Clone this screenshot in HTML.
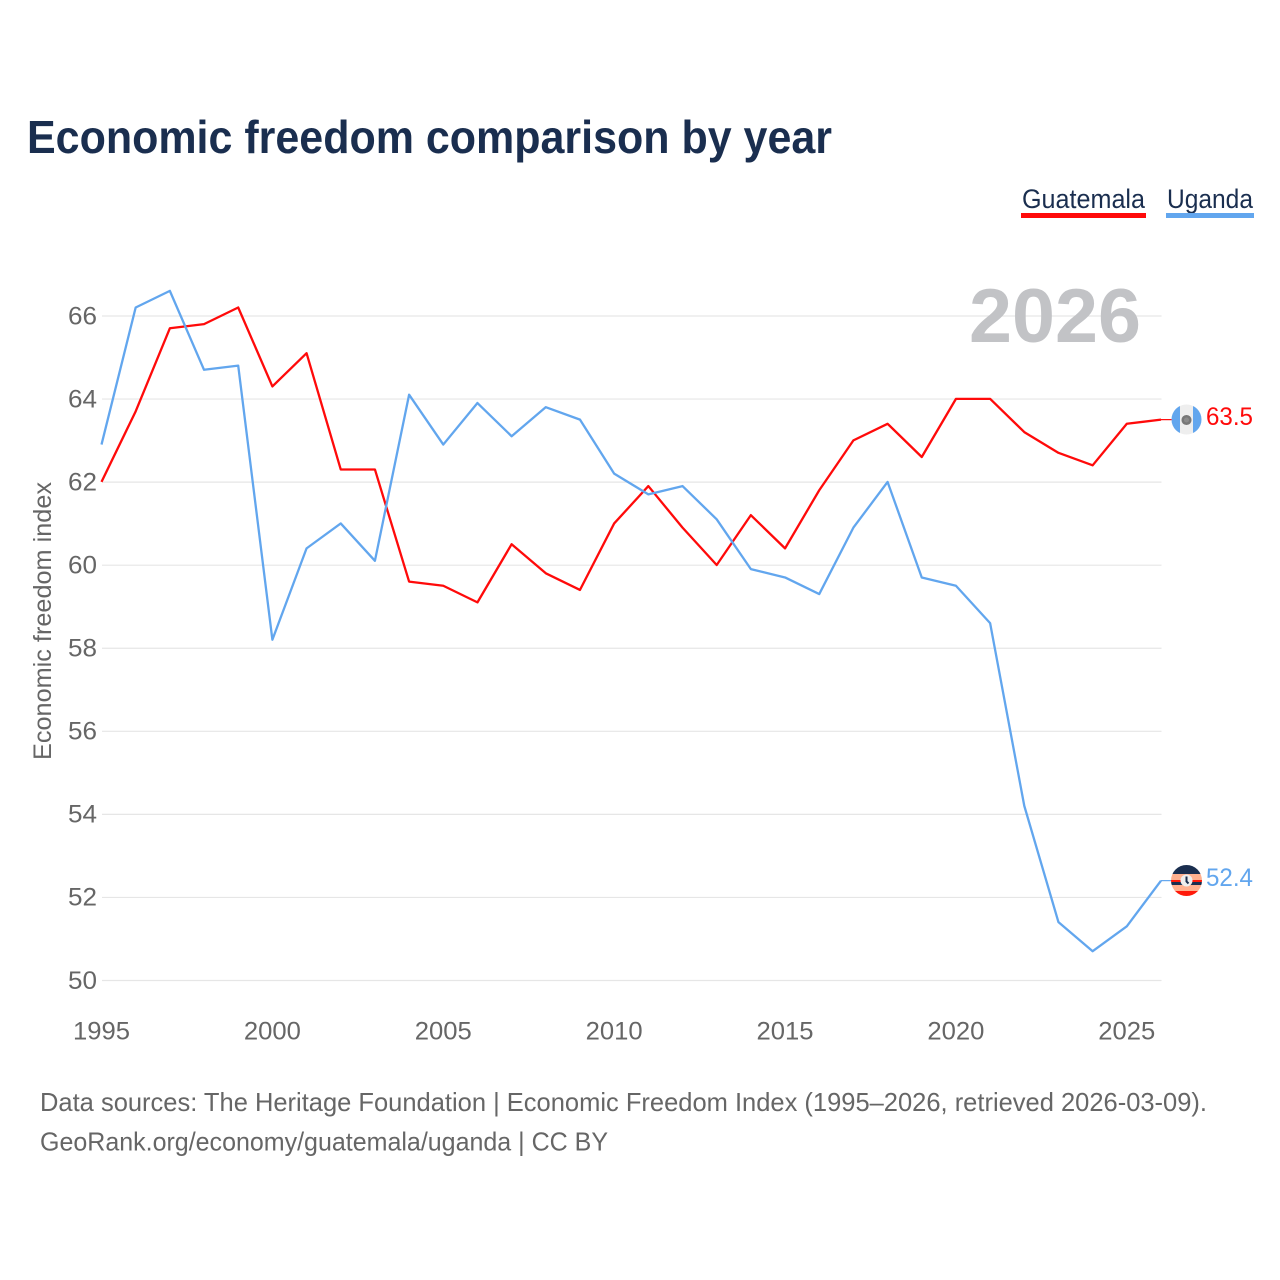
<!DOCTYPE html>
<html lang="en">
<head>
<meta charset="utf-8">
<title>Economic freedom comparison by year</title>
<style>
html,body{margin:0;padding:0;background:#fff}
svg{display:block}
text{font-family:"Liberation Sans",sans-serif}
</style>
</head>
<body>
<svg id="chart" xmlns="http://www.w3.org/2000/svg" width="1280" height="1280" viewBox="0 0 1280 1280">
  <rect width="1280" height="1280" fill="#fff"/>
  <defs>
    <clipPath id="flag-clip-gt"><circle cx="1186.5" cy="419.5" r="15"/></clipPath>
    <clipPath id="flag-clip-ug"><circle cx="1186.5" cy="880.5" r="15.5"/></clipPath>
  </defs>
  <text x="27" y="153" font-size="46" font-weight="700" fill="#1a2e4f" textLength="805" lengthAdjust="spacingAndGlyphs">Economic freedom comparison by year</text>

  <g>
    <g>
      <text x="1022" y="208" font-size="27" fill="#1a2e4f" textLength="123" lengthAdjust="spacingAndGlyphs">Guatemala</text>
      <rect x="1021" y="213" width="125" height="5" fill="#ff0a0a"/>
    </g>
    <g>
      <text x="1167" y="208" font-size="27" fill="#1a2e4f" textLength="86" lengthAdjust="spacingAndGlyphs">Uganda</text>
      <rect x="1166" y="213" width="88" height="5" fill="#62a6ee"/>
    </g>
  </g>

  <g id="grid"></g>
  <text x="969" y="342" font-size="76" font-weight="700" fill="#c2c3c6" textLength="172" lengthAdjust="spacingAndGlyphs">2026</text>
  <g id="yticks"></g>
  <g id="xticks"></g>
  <text transform="translate(51 621) rotate(-90)" text-anchor="middle" font-size="25" fill="#666" textLength="278" lengthAdjust="spacingAndGlyphs">Economic freedom index</text>

  <g id="series"></g>

  <g clip-path="url(#flag-clip-gt)">
    <rect x="1171" y="404" width="31" height="31" fill="#eeeeee"/>
    <rect x="1171" y="404" width="9" height="31" fill="#62a6ee"/>
    <rect x="1193" y="404" width="9" height="31" fill="#62a6ee"/>
    <circle cx="1186.5" cy="420" r="3.8" fill="#8a8a8a" stroke="#777" stroke-width="2.5"/>
  </g>
  <g clip-path="url(#flag-clip-ug)">
    <rect x="1171" y="865" width="31" height="9" fill="#1a2e4f"/>
    <rect x="1171" y="874" width="31" height="6" fill="#ffb08f"/>
    <rect x="1171" y="880" width="31" height="2" fill="#ff1a0a"/>
    <rect x="1171" y="882" width="31" height="3" fill="#1a2e4f"/>
    <rect x="1171" y="885" width="31" height="6" fill="#ffb08f"/>
    <rect x="1171" y="891" width="31" height="5" fill="#ff1a0a"/>
    <circle cx="1186.5" cy="880.5" r="6" fill="#eeeeee"/>
    <path d="M1186.5 876.5v5l2 2" fill="none" stroke="#1a2e4f" stroke-width="2"/>
  </g>

  <g id="endlabels"></g>

  <g>
    <text x="40" y="1111" font-size="26" fill="#666" textLength="1167" lengthAdjust="spacingAndGlyphs">Data sources: The Heritage Foundation | Economic Freedom Index (1995–2026, retrieved 2026-03-09).</text>
    <text x="40" y="1150.5" font-size="26" fill="#666" textLength="568" lengthAdjust="spacingAndGlyphs">GeoRank.org/economy/guatemala/uganda | CC BY</text>
  </g>
</svg>
<script>
const years = [1995,1996,1997,1998,1999,2000,2001,2002,2003,2004,2005,2006,2007,2008,2009,2010,2011,2012,2013,2014,2015,2016,2017,2018,2019,2020,2021,2022,2023,2024,2025,2026];
const guatemala = [62.0,63.7,65.7,65.8,66.2,64.3,65.1,62.3,62.3,59.6,59.5,59.1,60.5,59.8,59.4,61.0,61.9,60.9,60.0,61.2,60.4,61.8,63.0,63.4,62.6,64.0,64.0,63.2,62.7,62.4,63.4,63.5];
const uganda = [62.9,66.2,66.6,64.7,64.8,58.2,60.4,61.0,60.1,64.1,62.9,63.9,63.1,63.8,63.5,62.2,61.7,61.9,61.1,59.9,59.7,59.3,60.9,62.0,59.7,59.5,58.6,54.2,51.4,50.7,51.3,52.4];
const yTicks = [50,52,54,56,58,60,62,64,66];
const xTicks = [1995,2000,2005,2010,2015,2020,2025];

const NS = 'http://www.w3.org/2000/svg';
const xScale = function (year) { return 101.5 + (year - 1995) * (1161 - 101.5) / 31; };
const yScale = function (value) { return 980.3 - (value - 50) * (980.3 - 315.8) / 16; };
function make(tag, parent, attrs, txt) {
  const el = document.createElementNS(NS, tag);
  Object.keys(attrs).forEach(function (k) { el.setAttribute(k, attrs[k]); });
  if (txt !== undefined) el.textContent = txt;
  parent.appendChild(el);
  return el;
}
const gridGroup = document.getElementById('grid');
const yGroup = document.getElementById('yticks');
const xGroup = document.getElementById('xticks');
const seriesGroup = document.getElementById('series');
const endGroup = document.getElementById('endlabels');

yTicks.forEach(function (t) {
  const line = make('line', gridGroup, {x1: 102, x2: 1161.5, y1: yScale(t) + 0.2, y2: yScale(t) + 0.2, stroke: '#e6e6e6', 'stroke-width': 1.2});
  
  
  const label = make('text', yGroup, {x: 97, y: yScale(t) + 8.5, 'text-anchor': 'end', 'font-size': 25, fill: '#666', textLength: 29, lengthAdjust: 'spacingAndGlyphs'}, String(t));
  
  
});
xTicks.forEach(function (t) {
  const label = make('text', xGroup, {x: xScale(t), y: 1039.5, 'text-anchor': 'middle', 'font-size': 25, fill: '#666', textLength: 57, lengthAdjust: 'spacingAndGlyphs'}, String(t));
  
  
});
function pathFor(values) {
  return values.map(function (v, i) { return (i ? 'L' : 'M') + xScale(years[i]).toFixed(2) + ' ' + yScale(v).toFixed(2); }).join('');
}
const gtLine = make('path', seriesGroup, {d: pathFor(guatemala), fill: 'none', stroke: '#ff0a0a', 'stroke-width': 2.3, 'stroke-linejoin': 'round'});


const ugLine = make('path', seriesGroup, {d: pathFor(uganda), fill: 'none', stroke: '#62a6ee', 'stroke-width': 2.3, 'stroke-linejoin': 'round'});



const gtLast = guatemala[guatemala.length - 1];
const ugLast = uganda[uganda.length - 1];
const gtConn = make('line', seriesGroup, {x1: 1161, x2: 1172, y1: yScale(gtLast), y2: yScale(gtLast), stroke: '#ff0a0a', 'stroke-width': 1.2});


const ugConn = make('line', seriesGroup, {x1: 1161, x2: 1172, y1: yScale(ugLast), y2: yScale(ugLast), stroke: '#62a6ee', 'stroke-width': 1.2});


const gtEnd = make('text', endGroup, {x: 1206, y: yScale(gtLast) + 5.5, 'font-size': 25, fill: '#ff0a0a', textLength: 47, lengthAdjust: 'spacingAndGlyphs'}, gtLast.toFixed(1));


const ugEnd = make('text', endGroup, {x: 1206, y: yScale(ugLast) + 5.5, 'font-size': 25, fill: '#62a6ee', textLength: 47, lengthAdjust: 'spacingAndGlyphs'}, ugLast.toFixed(1));


</script>
</body>
</html>
